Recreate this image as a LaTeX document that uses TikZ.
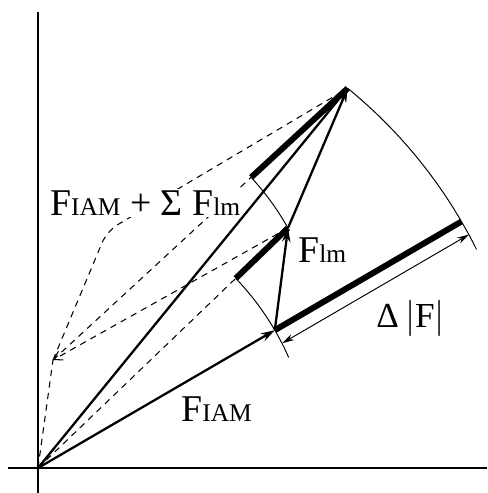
\documentclass[tikz,border=0pt]{standalone}
\usepackage{fontspec}
\setmainfont{Liberation Serif}
\usetikzlibrary{arrows.meta,calc}
\newcommand{\Fsub}[1]{F{\fontsize{14.5}{16}\selectfont #1}}
\tikzset{
  axisln/.style={line width=0.6pt},
  vec/.style={line width=1.3pt, -{Stealth[length=2.8mm,width=1.7mm]}},
  gain/.style={line width=3.4pt},
  guide/.style={line width=0.55pt},
  hid/.style={line width=0.6pt, dash pattern=on 3.6pt off 3pt},
  dimarr/.style={line width=0.55pt, {Stealth[length=2.4mm,width=1.3mm]}-{Stealth[length=2.4mm,width=1.3mm]}},
  lbl/.style={font=\fontsize{21.5}{24}\selectfont, inner sep=0pt, anchor=base west},
}

\begin{document}
\begin{tikzpicture}[x=0.02cm,y=-0.02cm]
    \useasboundingbox (0,0) rectangle (487,493);
    % points (pixel grid, y down)
    \coordinate (O) at (38,468);
    \coordinate (A) at ($(O)+(-30.2:274)$);
    \coordinate (B) at ($(O)+(-30.2:490)$);
    \coordinate (C) at (288,228);
    \coordinate (D) at ($(O)+(-43.8:274)$);
    \coordinate (R) at ($(O)+(-50.8:490)$);
    \coordinate (P) at (53,360);
    \coordinate (E) at ($(P)+(-42.67:269.5)$);
    \coordinate (K) at (107,231);
    \coordinate (F1) at ($(A)+(7.5,13)$);
    \coordinate (F2) at ($(B)+(7.5,13)$);
    % axes
    \draw[axisln] (38,12) -- (38,493);
    \draw[axisln] (8,468) -- (487,468);
    % hidden construction lines
    \draw[hid] (O) -- (P);
    \draw[hid] (O) -- (D);
    \draw[hid] (P) -- (E);
    \draw[hid, -{Straight Barb[length=1.6mm,width=2mm]}] (C) -- (P);
    \draw[hid, rounded corners=7pt] (P) -- (K) -- (R);
    \node[lbl, fill=white, inner sep=1pt] (fsum) at (48,215) {\Fsub{IAM} + Σ \Fsub{lm}};
    % arcs of equal magnitude
    \draw[guide] (D) arc[start angle=-43.8, end angle=-23.8, radius=274];
    \draw[guide] (E) arc[start angle=-42.67, end angle=-29.3, radius=269.5];
    \draw[guide] (R) arc[start angle=-50.8, end angle=-26.5, radius=490];
    % magnitude gains
    \draw[gain] (A) -- (B);
    \draw[gain] (D) -- (C);
    \draw[gain] (E) -- (R);
    % force vectors
    \draw[vec] (O) -- (A);
    \draw[vec] (O) -- (R);
    \draw[vec] (A) -- (C);
    \draw[vec] (C) -- (R);
    \draw[dimarr] (F1) -- (F2);
    \node[lbl] (fiam) at (181,421) {\Fsub{IAM}};
    \node[lbl] (flm) at (298,262) {\Fsub{lm}};
    \node[lbl, font=\fontsize{20}{22}\selectfont] (dF) at (376,327) {Δ$\,\bigl|$F$\bigr|$};
\end{tikzpicture}
\end{document}
